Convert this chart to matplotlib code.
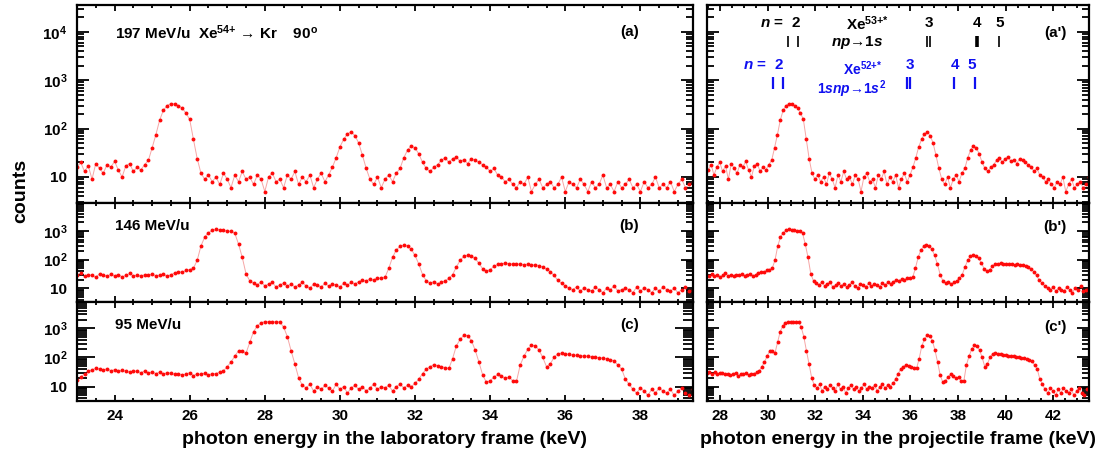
import numpy as np
import matplotlib.pyplot as plt
from matplotlib import ticker

plt.rcParams['font.family'] = ['Liberation Sans', 'DejaVu Sans']
plt.rcParams['font.weight'] = 'bold'
plt.rcParams['mathtext.fontset'] = 'custom'
plt.rcParams['mathtext.rm'] = 'Liberation Sans:bold'
plt.rcParams['mathtext.bf'] = 'Liberation Sans:bold'
plt.rcParams['mathtext.it'] = 'Liberation Sans:bold:italic'

# detector channels (lab frame, keV), 0.1 keV bins from 22.7 keV
energy_lab = np.round(22.7 + 0.1 * np.arange(168), 2)

beam_energy = [197, 146, 95]  # MeV/u
panel_tags = ['(a)', '(b)', '(c)']

counts_197 = [
    14, 18, 11, 16, 20, 13, 17, 9, 19, 15,           # 22.7
    12, 18, 16, 21, 14, 10, 17, 19, 13, 16,          # 23.7
    14, 18, 22, 40, 75, 150, 240, 300, 330, 325,     # 24.7
    300, 265, 210, 155, 60, 24, 12, 9, 11, 8,        # 25.7
    10, 7, 12, 9, 6, 11, 8, 13, 9, 10,               # 26.7
    7, 11, 9, 5, 10, 12, 8, 9, 6, 11,                # 27.7
    9, 13, 7, 10, 8, 11, 6, 9, 12, 8,                # 28.7
    11, 16, 25, 42, 60, 78, 85, 72, 50, 28,          # 29.7
    15, 9, 7, 10, 6, 9, 11, 8, 12, 15,               # 30.7
    25, 36, 44, 40, 30, 20, 15, 13, 16, 18,          # 31.7
    22, 25, 20, 24, 26, 21, 23, 19, 24, 22,          # 32.7
    20, 18, 16, 13, 15, 11, 10, 8, 9, 7,             # 33.7
    6, 8, 7, 10, 5, 7, 9, 6, 7, 8,                   # 34.7
    6, 7, 10, 5, 8, 7, 6, 9, 7, 5,                   # 35.7
    8, 6, 7, 11, 6, 7, 5, 8, 6, 7,                   # 36.7
    9, 6, 7, 5, 8, 6, 7, 10, 6, 7,                   # 37.7
    6, 8, 5, 7, 9, 6, 7, 8,                          # 38.7
]

counts_146 = [
    27, 31, 25, 29, 33, 26, 30, 28, 24, 32,          # 22.7
    29, 26, 31, 27, 30, 25, 28, 33, 27, 29,          # 23.7
    26, 30, 28, 32, 27, 29, 31, 26, 30, 34,          # 24.7
    38, 36, 42, 45, 50, 95, 300, 620, 880, 1050,     # 25.7
    1150, 1100, 1050, 1000, 980, 850, 350, 120, 32, 18,  # 26.7
    15, 13, 17, 12, 14, 16, 11, 13, 15, 12,          # 27.7
    14, 11, 13, 16, 12, 10, 14, 13, 11, 15,          # 28.7
    12, 14, 13, 11, 15, 13, 16, 14, 17, 19,          # 29.7
    18, 21, 19, 23, 22, 24, 50, 120, 220, 290,       # 30.7
    320, 300, 230, 140, 70, 30, 18, 15, 17, 14,      # 31.7
    16, 18, 22, 30, 55, 95, 130, 142, 135, 110,      # 32.7
    75, 48, 40, 45, 58, 68, 72, 75, 73, 70,          # 33.7
    68, 72, 66, 70, 64, 67, 62, 55, 47, 38,          # 34.7
    28, 19, 15, 12, 10, 9, 11, 8, 10, 9,             # 35.7
    8, 11, 9, 7, 10, 9, 12, 8, 9, 10,                # 36.7
    9, 7, 11, 8, 10, 9, 7, 10, 8, 11,                # 37.7
    9, 8, 10, 7, 9, 11, 8, 9,                        # 38.7
]

counts_95 = [
    14, 15, 16, 17, 22, 27, 33, 38, 42, 40,          # 22.7
    37, 41, 35, 38, 33, 36, 34, 31, 35, 33,          # 23.7
    30, 34, 29, 32, 28, 31, 27, 30, 29, 26,          # 24.7
    28, 25, 27, 30, 24, 27, 26, 29, 25, 28,          # 25.7
    28, 31, 35, 48, 70, 110, 170, 165, 140, 330,     # 26.7
    770, 1200, 1550, 1700, 1700, 1650, 1700, 1650, 1100, 520,  # 27.7
    170, 60, 20, 11, 9, 12, 7, 10, 8, 11,            # 28.7
    9, 7, 12, 8, 10, 6, 9, 11, 8, 10,                # 29.7
    7, 9, 12, 8, 10, 9, 11, 7, 10, 12,               # 30.7
    9, 11, 10, 13, 18, 28, 40, 48, 57, 52,           # 31.7
    48, 45, 42, 92, 250, 420, 580, 560, 380, 180,    # 32.7
    70, 25, 14, 16, 21, 26, 23, 19, 21, 16,          # 33.7
    15, 55, 110, 190, 260, 255, 180, 100, 48, 60,    # 34.7
    100, 135, 140, 132, 128, 120, 118, 112, 115, 108,  # 35.7
    105, 100, 98, 95, 90, 85, 75, 55, 40, 18,        # 36.7
    12, 8, 6, 9, 7, 5, 8, 6, 9, 7,                   # 37.7
    6, 8, 5, 7, 9, 6, 5, 8,                          # 38.7
]

spectra = [counts_197, counts_146, counts_95]
ylims = [(2.9, 3.6e4), (3.3, 9.6e3), (3.2, 8.0e3)]

# line markers in (a'): projectile-frame energies (keV)
h_like_lines = [30.87, 31.29, 36.71, 36.82, 39.70]
h_like_bold = [38.80]
he_like_lines = [30.21, 30.63, 35.87, 36.00, 37.83, 38.71]


def log_label(v, pos):
    p = int(round(np.log10(v)))
    if p == 1:
        return '10'
    return r'$\mathbf{10^{%d}}$' % p


def style_axes(ax, ylim, xmaj, left_labels, bottom_labels, ylen):
    ax.set_yscale('log')
    ax.set_ylim(*ylim)
    ax.xaxis.set_major_locator(ticker.MultipleLocator(xmaj))
    ax.xaxis.set_minor_locator(ticker.MultipleLocator(0.5))
    ax.yaxis.set_major_locator(ticker.LogLocator(base=10, numticks=10))
    ax.yaxis.set_minor_locator(ticker.LogLocator(base=10, subs=np.arange(2, 10), numticks=10))
    ax.yaxis.set_major_formatter(ticker.FuncFormatter(log_label))
    ax.yaxis.set_minor_formatter(ticker.NullFormatter())
    ax.tick_params(which='both', direction='in', top=True, right=True, width=1.3,
                   labelsize=11, labelleft=left_labels, labelbottom=bottom_labels)
    ax.tick_params(axis='x', which='major', length=4.5, pad=6)
    ax.tick_params(axis='x', which='minor', length=2.5)
    ax.tick_params(axis='y', which='major', length=ylen, pad=7)
    ax.tick_params(axis='y', which='minor', length=ylen * 0.58)
    for s in ax.spines.values():
        s.set_linewidth(1.6)


def draw(ax, x, y):
    ax.plot(x, y, color='#f6a6a6', lw=0.7, zorder=1)
    ax.plot(x, y, ls='none', marker='o', ms=2.8, mfc='#ff0a0a', mec='none', zorder=2)


fig = plt.figure(figsize=(10.96, 4.54), dpi=100)
W, H = 1096, 454
rows = [(5, 203), (203, 302), (302, 401)]
left_axes, right_axes = [], []
for r, (ytop, ybot) in enumerate(rows):
    b = 1 - ybot / H
    h = (ybot - ytop) / H
    left_axes.append(fig.add_axes([77 / W, b, (693 - 77) / W, h]))
    right_axes.append(fig.add_axes([707 / W, b, (1089 - 707) / W, h]))

for r in range(3):
    axl, axr = left_axes[r], right_axes[r]
    gamma = 1 + beam_energy[r] / 931.494
    draw(axl, energy_lab, spectra[r])
    draw(axr, energy_lab * gamma, spectra[r])
    axl.set_xlim(23.0, 39.4)
    axr.set_xlim(27.45, 43.5)
    ylen = 13 if r == 2 else 8.6
    style_axes(axl, ylims[r], 2, True, r == 2, ylen)
    style_axes(axr, ylims[r], 2, False, r == 2, 8.6)

    if r == 0:
        axl.text(0.062, 0.86, r'197 MeV/u  Xe$^{\text{54+}}$ → Kr    90$^{\text{o}}$',
                 transform=axl.transAxes, ha='left', va='center', fontsize=11)
    else:
        axl.text(0.062, 0.77, '%d MeV/u' % beam_energy[r],
                 transform=axl.transAxes, ha='left', va='center', fontsize=11)
    axl.text(0.912, [0.864, 0.77, 0.77][r], panel_tags[r],
             transform=axl.transAxes, ha='right', va='center', fontsize=11)
    axr.text(0.942, [0.86, 0.76, 0.75][r], panel_tags[r][:-1] + "')",
             transform=axr.transAxes, ha='right', va='center', fontsize=11)

# transition markers in (a')
ax = right_axes[0]
tr = ax.get_xaxis_transform()
ax.vlines(h_like_lines, 0.786, 0.843, transform=tr, color='black', lw=1.2)
ax.vlines(h_like_bold, 0.786, 0.843, transform=tr, color='black', lw=2.6)
ax.text(30.69, 0.908, r'$n$ =', transform=tr, ha='right', va='center', fontsize=11)
for xe, lab in [(31.19, '2'), (36.76, '3'), (38.78, '4'), (39.76, '5')]:
    ax.text(xe, 0.908, lab, transform=tr, ha='center', va='center', fontsize=11)
ax.text(34.2, 0.908, r'Xe$^{\text{53+*}}$', transform=tr, ha='center', va='center', fontsize=11)
ax.text(33.76, 0.81, r'$np$→1$s$', transform=tr, ha='center', va='center', fontsize=11)

blue = '#1010f0'
ax.vlines(he_like_lines, 0.574, 0.635, transform=tr, color=blue, lw=1.6)
ax.text(29.96, 0.697, r'$n$ =', transform=tr, ha='right', va='center', fontsize=11, color=blue)
for xe, lab in [(30.45, '2'), (35.98, '3'), (37.87, '4'), (38.57, '5')]:
    ax.text(xe, 0.697, lab, transform=tr, ha='center', va='center', fontsize=11, color=blue)
ax.text(34.0, 0.648, r'Xe$^{\text{52+*}}$', transform=tr, ha='center', va='baseline',
        fontsize=10, color=blue)
ax.text(33.53, 0.548, r'1$snp$→1$s^{\text{2}}$', transform=tr, ha='center', va='baseline',
        fontsize=10, color=blue)

fig.text(0.019, 0.579, 'counts', rotation=90, ha='center', va='center', fontsize=14)
fig.text(385 / W, 1 - 440 / H, 'photon energy in the laboratory frame (keV)',
         ha='center', va='center', fontsize=14)
fig.text(898 / W, 1 - 440 / H, 'photon energy in the projectile frame (keV)',
         ha='center', va='center', fontsize=14)

fig.savefig('out.png', dpi=100)
